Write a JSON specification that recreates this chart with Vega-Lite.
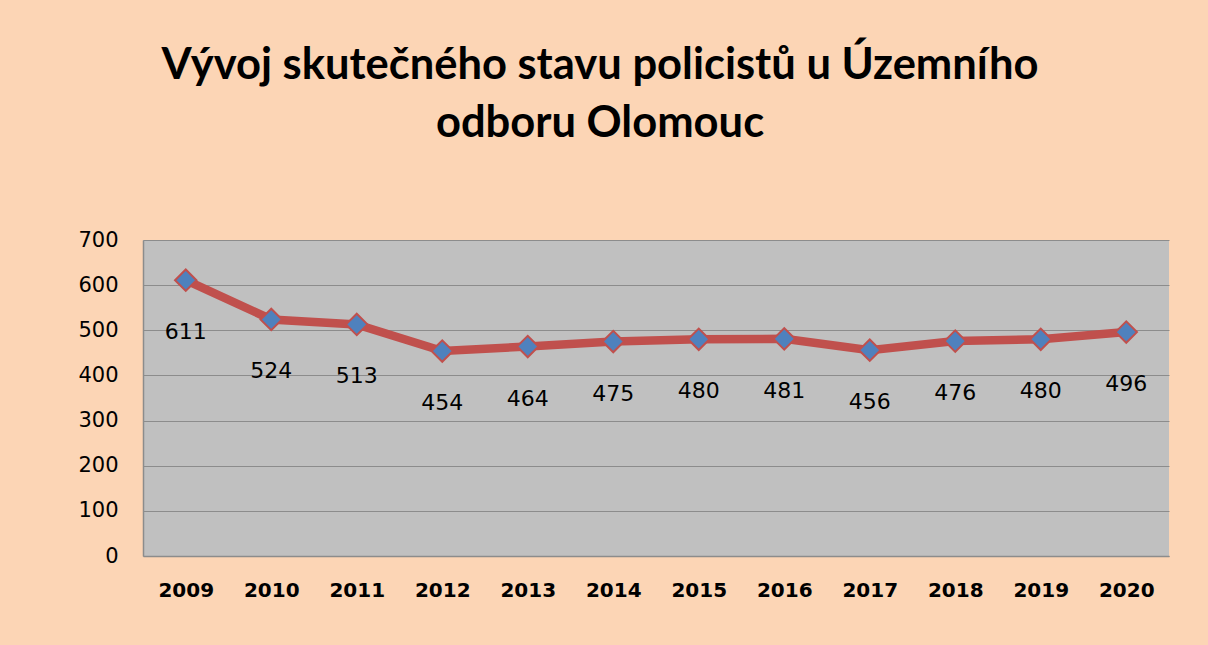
{
  "$schema": "https://vega.github.io/schema/vega-lite/v6.json",
  "width": 1026,
  "height": 316,
  "autosize": {"type": "none"},
  "padding": {"left": 143, "top": 240, "right": 39, "bottom": 89},
  "background": "#FCD5B5",
  "title": {
    "text": ["Vývoj skutečného stavu policistů u Územního", "odboru Olomouc"],
    "font": "Lato",
    "fontSize": 43.5,
    "fontWeight": "bold",
    "color": "black",
    "lineHeight": 58,
    "anchor": "middle",
    "dx": -56,
    "offset": 83
  },
  "config": {"view": {"fill": "#C0C0C0", "stroke": null}},
  "data": {
    "values": [
      {"year": "2009", "value": 611},
      {"year": "2010", "value": 524},
      {"year": "2011", "value": 513},
      {"year": "2012", "value": 454},
      {"year": "2013", "value": 464},
      {"year": "2014", "value": 475},
      {"year": "2015", "value": 480},
      {"year": "2016", "value": 481},
      {"year": "2017", "value": 456},
      {"year": "2018", "value": 476},
      {"year": "2019", "value": 480},
      {"year": "2020", "value": 496}
    ]
  },
  "encoding": {
    "x": {
      "field": "year",
      "type": "ordinal",
      "scale": {"type": "point", "padding": 0.5},
      "axis": {
        "title": null,
        "labelAngle": 0,
        "labelFont": "DejaVu Sans",
        "labelFontSize": 20,
        "labelFontWeight": "bold",
        "labelColor": "black",
        "labelPadding": 24,
        "ticks": false,
        "grid": false,
        "domainColor": "#8C8C8C",
        "domainWidth": 1.5
      }
    },
    "y": {
      "field": "value",
      "type": "quantitative",
      "scale": {"domain": [0, 700], "nice": false, "zero": true},
      "axis": {
        "title": null,
        "values": [0, 100, 200, 300, 400, 500, 600, 700],
        "labelFont": "DejaVu Sans",
        "labelFontSize": 21,
        "labelColor": "black",
        "labelPadding": 25,
        "ticks": false,
        "grid": true,
        "gridColor": "#8C8C8C",
        "gridWidth": 1.2,
        "domainColor": "#8C8C8C",
        "domainWidth": 1.5
      }
    }
  },
  "layer": [
    {"mark": {"type": "line", "color": "#C0504D", "strokeWidth": 8.5}},
    {"mark": {"type": "point", "shape": "diamond", "filled": true, "fill": "#4F81BD", "stroke": "#C0504D", "strokeWidth": 2, "size": 460, "opacity": 1}},
    {
      "mark": {"type": "text", "dy": 52, "font": "DejaVu Sans", "fontSize": 22, "color": "black", "baseline": "middle"},
      "encoding": {"text": {"field": "value", "type": "quantitative"}}
    }
  ]
}
